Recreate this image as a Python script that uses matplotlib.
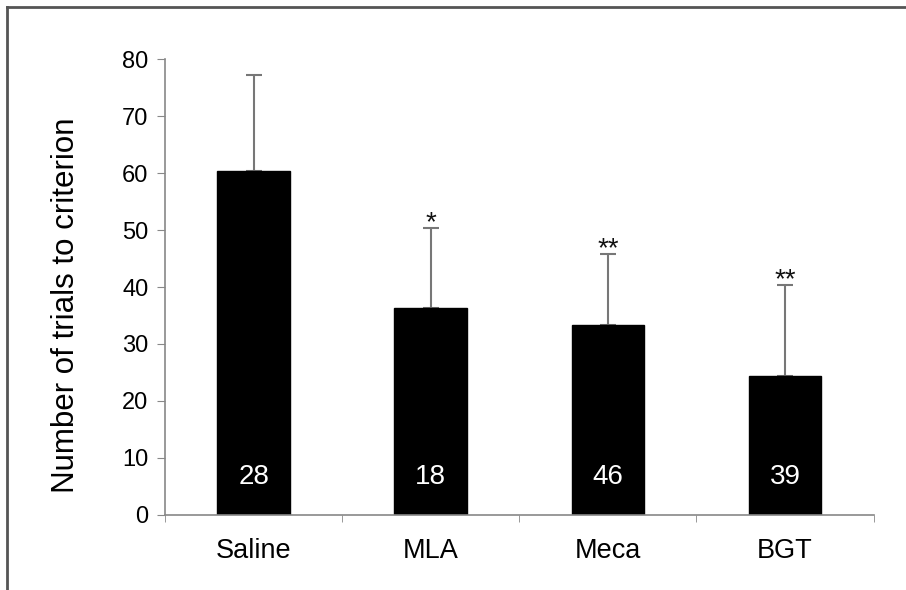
import matplotlib
matplotlib.use("Agg")
import matplotlib.pyplot as plt
from matplotlib.lines import Line2D

categories = ["Saline", "MLA", "Meca", "BGT"]
means = [60.4, 36.3, 33.3, 24.3]
errors = [16.9, 14.1, 12.5, 16.1]
n_labels = ["28", "18", "46", "39"]
significance = ["", "*", "**", "**"]
yticks = [0, 10, 20, 30, 40, 50, 60, 70, 80]

plt.rcParams['font.family'] = ['Liberation Sans', 'DejaVu Sans']

fig = plt.figure(figsize=(9.06, 5.90), dpi=100)
ax = fig.add_axes([165/906, 1-514.7/590, (873.5-165)/906, (514.7-59.5)/590])

x = list(range(len(categories)))
ax.bar(x, means, width=0.41, color='black', edgecolor='black', zorder=2)
ax.errorbar(x, means, yerr=[[0]*len(errors), errors], fmt='none', ecolor='#777777',
            elinewidth=1.5, capsize=6, capthick=1.5, zorder=1)

for xi, m, e, n, s in zip(x, means, errors, n_labels, significance):
    ax.text(xi, 6.7, n, color='white', ha='center', va='center', fontsize=20)
    if s:
        ax.text(xi, m + e - 0.4, s, color='#111111', ha='center', va='baseline', fontsize=20)

ax.set_xlim(-0.5, len(categories) - 0.5)
ax.set_ylim(0, 80)
ax.set_yticks(yticks)
ax.set_yticklabels([str(v) for v in yticks], fontsize=17)
ax.set_xticks(x)
ax.set_xticklabels(categories, fontsize=19.5)
ax.set_xticks([i - 0.5 for i in range(len(categories) + 1)], minor=True)
ax.tick_params(axis='x', which='major', length=0, pad=17)
ax.tick_params(axis='x', which='minor', length=5, color='#888888', direction='out')
ax.tick_params(axis='y', length=6, color='#888888', direction='out', pad=6)
ax.set_ylabel("Number of trials to criterion", fontsize=22.5)
ax.yaxis.set_label_coords(-0.118, 0.46)

for side in ['top', 'right']:
    ax.spines[side].set_visible(False)
for side in ['left', 'bottom']:
    ax.spines[side].set_color('#888888')
    ax.spines[side].set_linewidth(1.2)

# image frame lines (top and left)
fig.add_artist(Line2D([6.5/906, 1], [1-7/590, 1-7/590], transform=fig.transFigure, color='#555555', linewidth=2))
fig.add_artist(Line2D([6.5/906, 6.5/906], [0, 1-7/590], transform=fig.transFigure, color='#555555', linewidth=2))

fig.savefig("out.png", dpi=100)
